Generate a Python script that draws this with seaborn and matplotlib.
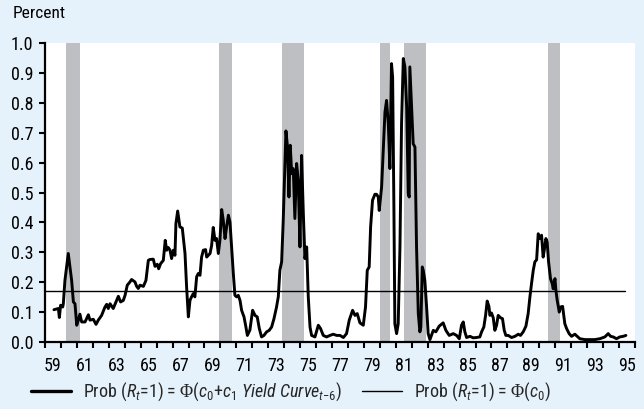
import numpy as np
import pandas as pd
import seaborn as sns
import matplotlib
matplotlib.use("Agg")
import matplotlib.pyplot as plt
from matplotlib import font_manager
from matplotlib.lines import Line2D

# ---- data -------------------------------------------------------------
years = [
    1959.56, 1959.84, 1959.90, 1959.98, 1960.11, 1960.15, 1960.25, 1960.46, 1960.67, 1960.78,
    1960.88, 1960.99, 1961.09, 1961.19, 1961.30, 1961.51, 1961.72, 1961.82, 1962.03, 1962.20,
    1962.34, 1962.55, 1962.76, 1962.87, 1962.97, 1963.08, 1963.28, 1963.45, 1963.60, 1963.74,
    1963.91, 1964.02, 1964.16, 1964.33, 1964.43, 1964.64, 1964.75, 1964.85, 1964.96, 1965.17,
    1965.33, 1965.48, 1965.58, 1965.79, 1965.90, 1966.04, 1966.13, 1966.25, 1966.42, 1966.54,
    1966.63, 1966.73, 1966.84, 1966.94, 1967.05, 1967.15, 1967.21, 1967.32, 1967.46, 1967.61,
    1967.78, 1967.88, 1967.99, 1968.09, 1968.19, 1968.30, 1968.40, 1968.51, 1968.61, 1968.72,
    1968.82, 1968.93, 1969.07, 1969.14, 1969.24, 1969.35, 1969.45, 1969.55, 1969.66, 1969.76,
    1969.87, 1969.97, 1970.08, 1970.18, 1970.29, 1970.39, 1970.50, 1970.60, 1970.70, 1970.81,
    1970.91, 1971.02, 1971.12, 1971.23, 1971.33, 1971.48, 1971.60, 1971.69, 1971.85, 1972.02,
    1972.17, 1972.31, 1972.44, 1972.58, 1972.73, 1972.90, 1973.06, 1973.21, 1973.36, 1973.52,
    1973.63, 1973.73, 1973.84, 1973.94, 1974.11, 1974.21, 1974.30, 1974.38, 1974.47, 1974.57,
    1974.67, 1974.78, 1974.88, 1974.99, 1975.09, 1975.20, 1975.30, 1975.41, 1975.51, 1975.62,
    1975.72, 1975.93, 1976.14, 1976.28, 1976.45, 1976.66, 1976.87, 1977.08, 1977.29, 1977.50,
    1977.71, 1977.91, 1978.08, 1978.29, 1978.44, 1978.58, 1978.75, 1978.96, 1979.10, 1979.21,
    1979.33, 1979.42, 1979.54, 1979.69, 1979.79, 1979.90, 1979.96, 1980.11, 1980.25, 1980.32,
    1980.42, 1980.53, 1980.63, 1980.73, 1980.80, 1980.88, 1980.94, 1981.05, 1981.15, 1981.26,
    1981.36, 1981.47, 1981.57, 1981.68, 1981.78, 1981.84, 1981.88, 1981.99, 1982.09, 1982.20,
    1982.30, 1982.41, 1982.51, 1982.57, 1982.66, 1982.72, 1982.82, 1982.93, 1983.03, 1983.14,
    1983.35, 1983.51, 1983.72, 1983.97, 1984.14, 1984.35, 1984.60, 1984.81, 1984.98, 1985.12,
    1985.23, 1985.33, 1985.44, 1985.65, 1985.85, 1986.06, 1986.27, 1986.38, 1986.52, 1986.63,
    1986.73, 1986.84, 1986.90, 1987.00, 1987.11, 1987.21, 1987.32, 1987.42, 1987.57, 1987.69,
    1987.80, 1987.90, 1988.05, 1988.26, 1988.47, 1988.68, 1988.82, 1988.99, 1989.16, 1989.30,
    1989.41, 1989.51, 1989.62, 1989.72, 1989.83, 1989.93, 1990.03, 1990.14, 1990.24, 1990.31,
    1990.41, 1990.49, 1990.58, 1990.70, 1990.81, 1990.87, 1990.98, 1991.04, 1991.12, 1991.25,
    1991.33, 1991.46, 1991.60, 1991.71, 1991.87, 1992.02, 1992.23, 1992.37, 1992.54, 1992.86,
    1993.17, 1993.48, 1993.80, 1994.11, 1994.32, 1994.47, 1994.63, 1994.84, 1995.05, 1995.26,
    1995.43,
]
prob_yield_curve = [
    0.108, 0.112, 0.082, 0.123, 0.117, 0.128, 0.206, 0.296, 0.206, 0.134,
    0.128, 0.056, 0.073, 0.093, 0.067, 0.067, 0.091, 0.073, 0.076, 0.059,
    0.073, 0.089, 0.117, 0.126, 0.112, 0.128, 0.112, 0.134, 0.153, 0.134,
    0.139, 0.156, 0.190, 0.201, 0.209, 0.201, 0.186, 0.179, 0.190, 0.186,
    0.206, 0.273, 0.276, 0.277, 0.253, 0.260, 0.245, 0.262, 0.273, 0.340,
    0.307, 0.316, 0.307, 0.279, 0.307, 0.290, 0.396, 0.438, 0.385, 0.381,
    0.296, 0.184, 0.084, 0.139, 0.151, 0.162, 0.151, 0.218, 0.229, 0.223,
    0.284, 0.307, 0.309, 0.284, 0.290, 0.296, 0.323, 0.383, 0.340, 0.346,
    0.296, 0.340, 0.443, 0.407, 0.346, 0.385, 0.424, 0.401, 0.318, 0.229,
    0.156, 0.151, 0.156, 0.139, 0.106, 0.084, 0.050, 0.022, 0.040, 0.106,
    0.089, 0.084, 0.045, 0.017, 0.022, 0.034, 0.039, 0.050, 0.078, 0.117,
    0.151, 0.240, 0.268, 0.407, 0.706, 0.652, 0.485, 0.658, 0.563, 0.580,
    0.413, 0.597, 0.541, 0.318, 0.624, 0.430, 0.279, 0.318, 0.151, 0.050,
    0.022, 0.017, 0.056, 0.045, 0.022, 0.017, 0.022, 0.026, 0.022, 0.022,
    0.015, 0.028, 0.073, 0.106, 0.089, 0.095, 0.064, 0.056, 0.117, 0.240,
    0.251, 0.385, 0.474, 0.494, 0.494, 0.485, 0.440, 0.519, 0.686, 0.769,
    0.808, 0.730, 0.580, 0.931, 0.886, 0.452, 0.061, 0.028, 0.061, 0.318,
    0.730, 0.948, 0.920, 0.786, 0.496, 0.485, 0.920, 0.786, 0.663, 0.652,
    0.318, 0.095, 0.034, 0.050, 0.251, 0.240, 0.206, 0.117, 0.028, 0.008,
    0.039, 0.034, 0.053, 0.064, 0.039, 0.022, 0.028, 0.022, 0.011, 0.056,
    0.067, 0.034, 0.015, 0.019, 0.014, 0.015, 0.017, 0.034, 0.050, 0.089,
    0.137, 0.119, 0.089, 0.097, 0.081, 0.039, 0.056, 0.089, 0.081, 0.078,
    0.039, 0.022, 0.022, 0.015, 0.019, 0.026, 0.022, 0.034, 0.053, 0.095,
    0.151, 0.195, 0.240, 0.268, 0.275, 0.362, 0.346, 0.357, 0.284, 0.307,
    0.346, 0.335, 0.268, 0.212, 0.195, 0.178, 0.212, 0.173, 0.140, 0.100,
    0.117, 0.119, 0.061, 0.045, 0.028, 0.019, 0.026, 0.019, 0.011, 0.008,
    0.008, 0.008, 0.011, 0.017, 0.028, 0.019, 0.017, 0.011, 0.017, 0.019,
    0.022,
]

# constant-only probit: unconditional recession probability over the sample
const_years = [1959.0, 1995.4]
const_prob = [0.17, 0.17]

# NBER recession periods (peak to trough)
rec_start = [1960.30, 1969.92, 1973.86, 1980.00, 1981.50, 1990.54]
rec_end = [1961.18, 1970.75, 1975.25, 1980.62, 1982.92, 1991.30]

year_labels = ["59", "61", "63", "65", "67", "69", "71", "73", "75", "77",
               "79", "81", "83", "85", "87", "89", "91", "93", "95"]
y_ticks = [0.0, 0.1, 0.2, 0.3, 0.4, 0.5, 0.6, 0.7, 0.8, 0.9, 1.0]

label_model = (r"Prob ($R_t$=1) = $\mathsf{\Phi}$($c_0$+$c_1$ "
               r"$Yield\ Curve_{t\mathrm{-}6}$)")
label_const = r"Prob ($R_t$=1) = $\mathsf{\Phi}$($c_0$)"

# ---- style ------------------------------------------------------------
BG = "#e6f2fb"
SHADE = "#bdbfc3"

sns.set_theme(style="white")

available = {f.name for f in font_manager.fontManager.ttflist}
family = "DejaVu Sans"
stretch = "normal"
for cand in ["Roboto Condensed", "Liberation Sans Narrow", "Open Sans Condensed"]:
    if cand in available:
        family = cand
        break
else:
    if any(f.name == "DejaVu Sans" and f.stretch == "condensed"
           for f in font_manager.fontManager.ttflist):
        stretch = "condensed"
serif = "Liberation Serif" if "Liberation Serif" in available else "DejaVu Serif"

plt.rcParams["font.family"] = [family, "DejaVu Sans"]
plt.rcParams["font.stretch"] = stretch
plt.rcParams["mathtext.fontset"] = "custom"
plt.rcParams["mathtext.rm"] = family
plt.rcParams["mathtext.it"] = family + ":italic"
plt.rcParams["mathtext.bf"] = family + ":bold"
plt.rcParams["mathtext.sf"] = serif  # serif capital Phi

FS = 13

df = pd.DataFrame({"year": years, "prob": prob_yield_curve})
df_const = pd.DataFrame({"year": const_years, "prob": const_prob})

fig = plt.figure(figsize=(6.44, 4.09), dpi=100, facecolor=BG)
ax = fig.add_axes([45 / 644, 67 / 409, 590 / 644, 299 / 409])
ax.set_facecolor("white")

for s, e in zip(rec_start, rec_end):
    ax.axvspan(s, e, color=SHADE, lw=0, zorder=0)

sns.lineplot(data=df_const, x="year", y="prob", ax=ax, color="black",
             lw=1.0, legend=False, zorder=2)
sns.lineplot(data=df, x="year", y="prob", ax=ax, color="black",
             lw=2.1, legend=False, estimator=None, zorder=3)

ax.set_xlim(1959.0, 1996.0)
ax.set_ylim(0.0, 1.0)
ax.set_xlabel("")
ax.set_ylabel("")

for side in ["top", "right"]:
    ax.spines[side].set_visible(False)
for side in ["left", "bottom"]:
    ax.spines[side].set_color("black")
    ax.spines[side].set_linewidth(1.6)

ax.set_xticks(np.arange(1959, 1997))
ax.set_xticklabels([])
ax.set_xticks(np.arange(1959.5, 1996, 2), minor=True)
ax.set_xticklabels(year_labels, minor=True, fontsize=FS)
ax.tick_params(axis="x", which="major", direction="out", length=4.5,
               width=1.5, color="black", bottom=True)
ax.tick_params(axis="x", which="minor", length=0, pad=10.5, bottom=True,
               labelcolor="black")

ax.set_yticks(y_ticks)
ax.set_yticklabels([f"{v:.1f}" for v in y_ticks], fontsize=FS)
ax.tick_params(axis="y", which="major", direction="out", length=4.5,
               width=1.5, color="black", left=True, pad=4.0, labelcolor="black")

fig.text(13 / 644, 1 - 14 / 409, "Percent", ha="left", va="center",
         fontsize=FS - 0.5, color="black")

handles = [Line2D([], [], color="black", lw=2.4),
           Line2D([], [], color="black", lw=1.0)]
ax.legend(handles, [label_model, label_const], ncol=2, frameon=False,
          loc="center", bbox_to_anchor=(0.452, 0.042),
          bbox_transform=fig.transFigure, fontsize=FS,
          handlelength=2.2, handletextpad=0.7, columnspacing=1.1)

fig.savefig("out.png", dpi=100, facecolor=BG)
